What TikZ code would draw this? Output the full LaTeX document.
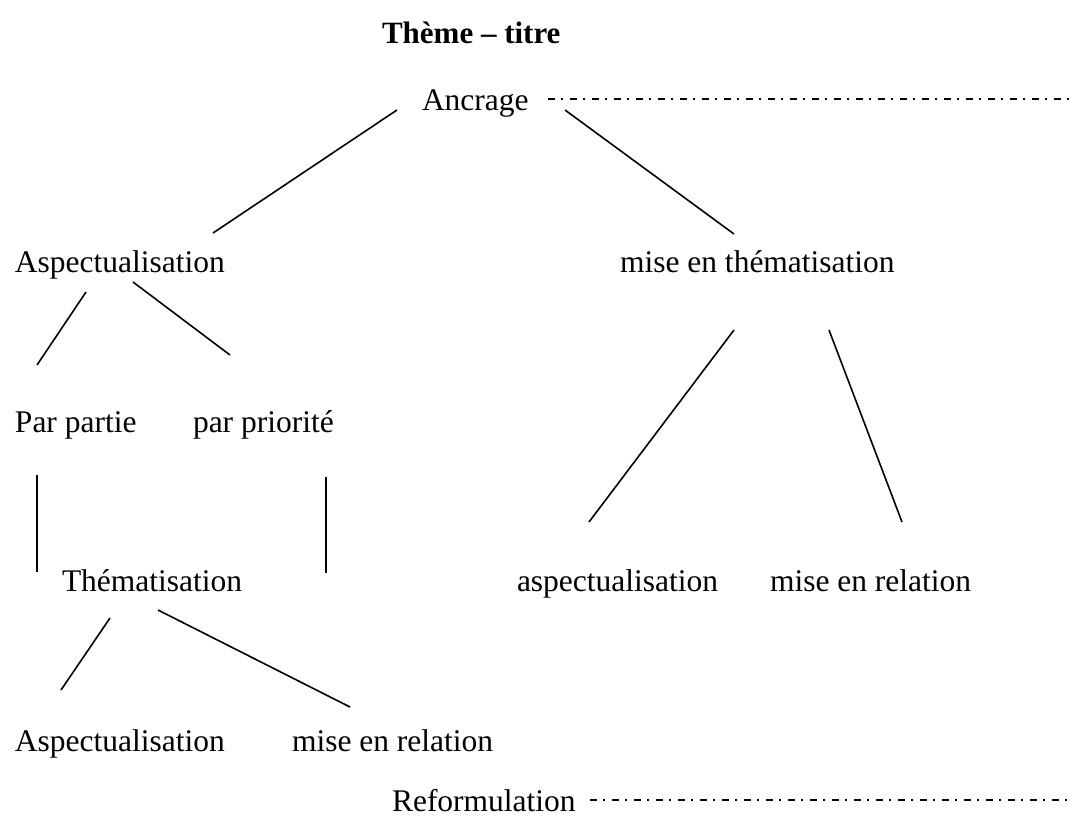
\documentclass[tikz,border=0pt]{standalone}
\usepackage{fontspec}
\setmainfont{Liberation Serif}
\begin{document}
\begin{tikzpicture}[x=1pt,y=-1pt,
  lbl/.style={anchor=base west,inner sep=0pt,outer sep=0pt,
              font=\fontsize{31.5}{38}\selectfont},
  branch/.style={line width=1.6pt},
  guide/.style={line width=1.5pt,dash pattern=on 7pt off 6pt on 2pt off 7pt}]
\useasboundingbox (0,0) rectangle (1069,825);

% labels
\node[lbl,font=\fontsize{31}{38}\selectfont\bfseries] (title) at (382,43) {Thème – titre};
\node[lbl] (ancrage) at (422,110) {Ancrage};
\node[lbl] (aspA) at (15,272) {Aspectualisation};
\node[lbl] (mth) at (620,272) {mise en thématisation};
\node[lbl] (ppartie) at (15,432) {Par partie};
\node[lbl] (pprio) at (193,432) {par priorité};
\node[lbl] (them) at (62,591) {Thématisation};
\node[lbl] (aspB) at (517,591) {aspectualisation};
\node[lbl] (merB) at (770,591) {mise en relation};
\node[lbl] (aspC) at (15,751) {Aspectualisation};
\node[lbl] (merC) at (292,751) {mise en relation};
\node[lbl] (reform) at (392,811) {Reformulation};

% branch end points
\coordinate (anc-l) at (397,110);
\coordinate (anc-r) at (565,110);
\coordinate (aspA-t) at (213,233);
\coordinate (mth-t) at (734,234);
\coordinate (aspA-l) at (86,292);
\coordinate (aspA-r) at (133,282);
\coordinate (ppartie-t) at (37,365);
\coordinate (pprio-t) at (230,355);
\coordinate (ppartie-b) at (37,475);
\coordinate (them-l) at (37,572);
\coordinate (pprio-b) at (326,477);
\coordinate (them-r) at (326,573);
\coordinate (mth-l) at (734,330);
\coordinate (mth-r) at (829,330);
\coordinate (aspB-t) at (589,522);
\coordinate (merB-t) at (902,522);
\coordinate (them-bl) at (110,618);
\coordinate (them-br) at (158,610);
\coordinate (aspC-t) at (61,690);
\coordinate (merC-t) at (350,707);
\coordinate (anc-start) at (548,99);
\coordinate (anc-end) at (1069,99);
\coordinate (ref-start) at (590,800);
\coordinate (ref-end) at (1069,800);

% tree branches
\draw[branch] (anc-l) -- (aspA-t);
\draw[branch] (anc-r) -- (mth-t);
\draw[branch] (aspA-l) -- (ppartie-t);
\draw[branch] (aspA-r) -- (pprio-t);
\draw[branch] (ppartie-b) -- (them-l);
\draw[branch] (pprio-b) -- (them-r);
\draw[branch] (mth-l) -- (aspB-t);
\draw[branch] (mth-r) -- (merB-t);
\draw[branch] (them-bl) -- (aspC-t);
\draw[branch] (them-br) -- (merC-t);

% dash-dot guide lines
\draw[guide] (anc-start) -- (anc-end);
\draw[guide] (ref-start) -- (ref-end);
\end{tikzpicture}
\end{document}
